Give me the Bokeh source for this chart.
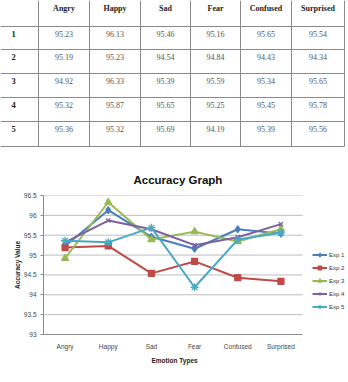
from bokeh.plotting import figure
from bokeh.layouts import column
from bokeh.models import Range1d, FixedTicker, Legend, LegendItem, Title
from bokeh.embed import file_html
from bokeh.resources import INLINE
from bokeh.core.properties import value

# ---------------- data ----------------
emotions = ["Angry", "Happy", "Sad", "Fear", "Confused", "Surprised"]
row_labels = ["1", "2", "3", "4", "5"]
exp1 = [95.23, 96.13, 95.46, 95.16, 95.65, 95.54]
exp2 = [95.19, 95.23, 94.54, 94.84, 94.43, 94.34]
exp3 = [94.92, 96.33, 95.39, 95.59, 95.34, 95.65]
exp4 = [95.32, 95.87, 95.65, 95.25, 95.45, 95.78]
exp5 = [95.36, 95.32, 95.69, 94.19, 95.39, 95.56]
series_names = ["Exp 1", "Exp 2", "Exp 3", "Exp 4", "Exp 5"]
y_ticks = [93, 93.5, 94, 94.5, 95, 95.5, 96, 96.5]
y_tick_labels = ["93", "93.5", "94", "94.5", "95", "95.5", "96", "96.5"]
chart_title = "Accuracy Graph"
x_title = "Emotion Types"
y_title = "Accuracy Value"

series = [exp1, exp2, exp3, exp4, exp5]
colors = ["#4A7EBB", "#BE4B48", "#98B954", "#7D60A0", "#46AAC5"]
markers = ["diamond", "square", "triangle", "x", "asterisk"]
msizes = [7, 6, 7, 6, 8]

# ---------------- table ----------------
col_edges = [0, 38, 89, 140, 190, 240, 291, 344]
row_edges = [0, 26, 49, 73, 97, 121, 146]

t = figure(width=348, height=150, x_range=Range1d(0, 348), y_range=Range1d(150, 0),
           x_axis_location=None, y_axis_location=None, toolbar_location=None,
           output_backend="svg", min_border=0)
t.frame_align = False
t.grid.visible = False
t.outline_line_color = None
t.background_fill_color = "white"

n_h = len(row_edges) - 1
t.segment(x0=[col_edges[0]] * n_h, y0=row_edges[1:], x1=[col_edges[-1]] * n_h, y1=row_edges[1:],
          line_color="#8a8a8a", line_width=1)
vx = col_edges[1:]
t.segment(x0=vx, y0=[row_edges[0]] * len(vx), x1=vx, y1=[row_edges[-1]] * len(vx),
          line_color="#8a8a8a", line_width=1)

col_mid = [(col_edges[i] + col_edges[i + 1]) / 2 for i in range(len(col_edges) - 1)]
serif = value("Liberation Serif")
t.text(x=col_mid[1:], y=[row_edges[0] + 7.5] * len(emotions), text=emotions,
       text_font=serif, text_font_size="8px", text_font_style="bold",
       text_align="center", text_baseline="middle", text_color="#222222")
t.text(x=[11] * len(row_labels), y=[row_edges[i + 1] + 7.5 for i in range(len(row_labels))],
       text=row_labels, text_font=serif, text_font_size="8.5px", text_font_style="bold",
       text_align="left", text_baseline="middle", text_color="#222222")
for i, s in enumerate(series):
    t.text(x=col_mid[1:], y=[row_edges[i + 1] + 7.5] * len(s), text=["%.2f" % v for v in s],
           text_font=serif, text_font_size="8px", text_align="center", text_baseline="middle",
           text_color="#555555")

# ---------------- chart ----------------
n_cat = len(emotions)
xs = [i + 0.5 for i in range(n_cat)]           # category centres
plot_px, legend_px = 259, 46                   # plot area and legend strip widths
x_end = n_cat * (plot_px + legend_px) / plot_px

p = figure(width=348, height=232, x_range=Range1d(0, x_end), y_range=Range1d(93, 96.5),
           toolbar_location=None, output_backend="svg",
           min_border_left=43, min_border_right=0, min_border_top=45, min_border_bottom=48)
p.frame_align = False
p.title = Title(text=chart_title, align="left", text_font="Liberation Sans",
                text_font_size="11.5px", text_font_style="bold", text_color="#111111",
                offset=90, standoff=19)
p.outline_line_color = None
p.grid.grid_line_color = None

# horizontal gridlines limited to the plot area
p.segment(x0=[0] * len(y_ticks), y0=y_ticks, x1=[n_cat] * len(y_ticks), y1=y_ticks,
          line_color="#bdbdbd", line_width=1)

p.yaxis.ticker = FixedTicker(ticks=y_ticks)
p.yaxis.major_label_overrides = {tk: lb for tk, lb in zip(y_ticks, y_tick_labels)}
p.xaxis.ticker = FixedTicker(ticks=xs)
p.xaxis.major_label_overrides = {x: lb for x, lb in zip(xs, emotions)}
p.xaxis.bounds = (0, n_cat)
p.axis.minor_tick_line_color = None
for ax in (p.xaxis[0], p.yaxis[0]):
    ax.axis_line_color = "#8c8c8c"
    ax.major_tick_line_color = "#8c8c8c"
    ax.major_tick_out = 3
    ax.major_tick_in = 0
    ax.major_label_text_font = "Liberation Sans"
    ax.major_label_text_font_size = "6.5px"
    ax.major_label_text_color = "#444444"
    ax.axis_label_text_font = "Liberation Sans"
    ax.axis_label_text_font_size = "6.5px"
    ax.axis_label_text_font_style = "bold"
    ax.axis_label_text_color = "#222222"
p.xaxis.major_tick_line_color = None
p.xaxis.major_label_standoff = 5
p.yaxis.axis_label = y_title
p.yaxis.major_label_standoff = 4
p.yaxis.axis_label_standoff = 0

p.add_layout(Title(text=x_title, align="left", offset=108, text_font="Liberation Sans",
                   text_font_size="6.5px", text_font_style="bold", text_color="#222222",
                   standoff=4), "below")

items = []
for name, s, c, m, ms in zip(series_names, series, colors, markers, msizes):
    r1 = p.line(xs, s, line_color=c, line_width=2)
    r2 = p.scatter(xs, s, marker=m, size=ms, fill_color=c, line_color=c, line_width=1.3)
    items.append(LegendItem(label=name, renderers=[r1, r2]))

leg = Legend(items=items, location=(269, 23), background_fill_alpha=0, border_line_color=None,
             padding=0, margin=0, spacing=4, label_height=9, glyph_height=9, glyph_width=15,
             label_standoff=2, label_text_font_size="6px", label_text_font="Liberation Sans",
             label_text_color="#333333")
p.add_layout(leg)

layout = column(t, p, spacing=0)
open("out.html", "w").write(file_html(layout, INLINE))
